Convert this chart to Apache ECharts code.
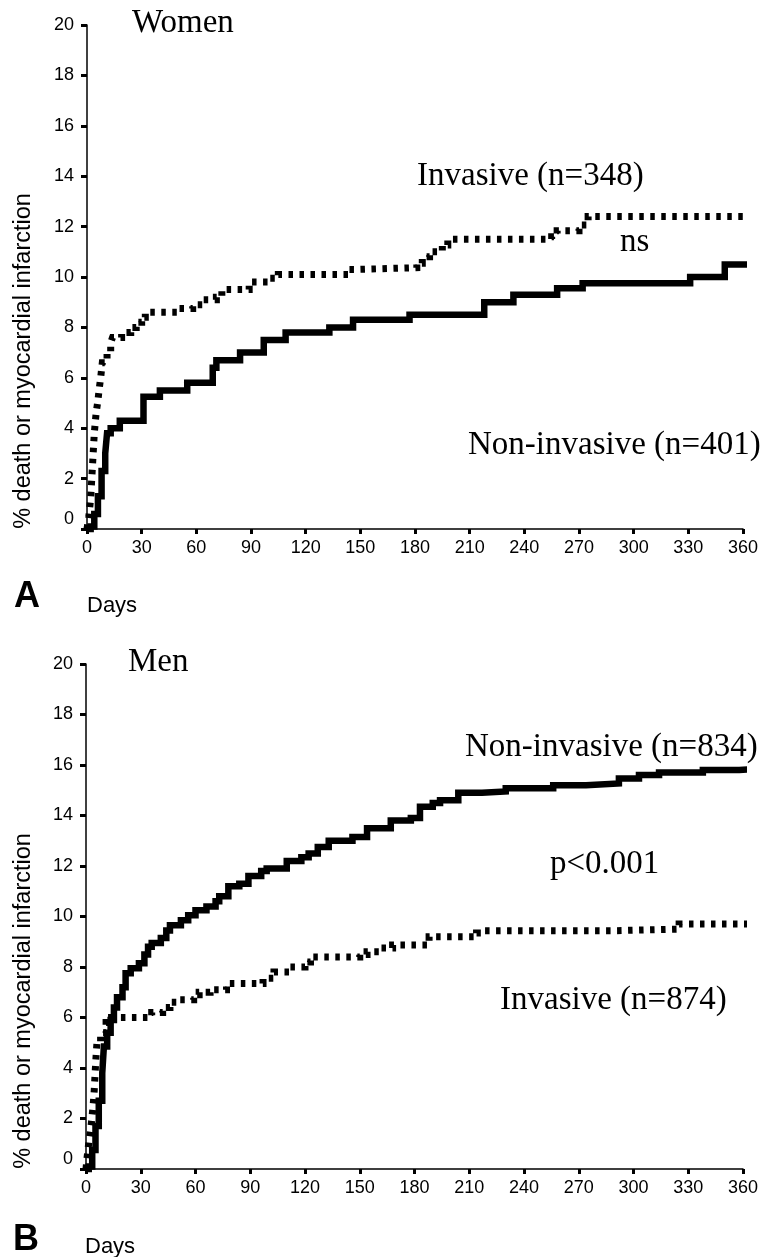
<!DOCTYPE html>
<html>
<head>
<meta charset="utf-8">
<script src="https://cdn.jsdelivr.net/npm/echarts@6/dist/echarts.min.js"></script>
<style>
  html, body { margin: 0; padding: 0; background: #fff; }
  #chart { width: 770px; height: 1257px; }
</style>
</head>
<body>
<div id="chart"></div>
<script>
// Panel A, women: cumulative % death or MI by day
const womenNonInvDays = [0, 2, 4, 6, 8, 10, 11, 13, 18, 31, 40, 55, 69, 71, 84, 97, 109, 133, 146, 177, 218, 234, 258, 272, 331, 350, 373]
const womenNonInvPct = [0, 0.1, 0.6, 1.3, 2.3, 3.0, 3.8, 4.0, 4.3, 5.25, 5.5, 5.8, 6.4, 6.7, 7.0, 7.5, 7.8, 8.0, 8.3, 8.5, 9.0, 9.3, 9.55, 9.75, 10.0, 10.5, 10.5]
const womenInvDays = [0, 1, 2, 3, 4, 5, 6, 6.6, 7.5, 8.4, 11, 13, 14, 19, 24, 27, 30, 32, 50, 58, 64, 71, 74, 89, 100, 105, 144, 148, 181, 184, 188, 195, 198, 255, 258, 270, 275, 373]
const womenInvPct = [0, 0.5, 1.2, 2.5, 3.8, 4.6, 5.1, 5.5, 6.0, 6.6, 7.0, 7.4, 7.6, 7.8, 8.0, 8.2, 8.4, 8.6, 8.75, 8.9, 9.1, 9.2, 9.5, 9.8, 9.95, 10.1, 10.3, 10.37, 10.55, 10.8, 11.0, 11.27, 11.5, 11.6, 11.84, 12.06, 12.4, 12.4]

// Panel B, men
const menNonInvDays = [0, 1.5, 3.4, 5.2, 7, 8.9, 9.8, 11.6, 13.5, 15.3, 17, 20, 21.7, 24.5, 29, 32, 34, 36, 41, 44, 46, 52, 56, 60, 66, 71, 73, 78, 84, 89, 96, 99, 110, 118, 122, 127, 133, 146, 154, 167, 178, 183, 190, 194, 204, 217, 230, 256, 274, 292, 303, 314, 338, 358, 373]
const menNonInvPct = [0, 0.1, 0.75, 1.7, 2.7, 3.8, 4.85, 5.4, 5.9, 6.4, 6.8, 7.2, 7.75, 7.95, 8.15, 8.5, 8.8, 8.95, 9.15, 9.45, 9.65, 9.85, 10.05, 10.25, 10.4, 10.6, 10.8, 11.2, 11.3, 11.6, 11.8, 11.9, 12.2, 12.35, 12.5, 12.75, 13.0, 13.15, 13.5, 13.8, 13.9, 14.35, 14.5, 14.6, 14.9, 14.95, 15.08, 15.2, 15.27, 15.47, 15.6, 15.7, 15.8, 15.87, 15.94]
const menInvDays = [0, 0.5, 1.3, 2.2, 3.1, 4, 4.5, 5, 5.5, 6, 8, 11, 14, 36, 42, 46, 50, 59, 62, 68, 77, 97, 103, 112, 120, 123, 150, 154, 161, 168, 188, 214, 218, 291, 325, 373]
const menInvPct = [0, 0.4, 0.9, 1.4, 1.9, 2.6, 3.1, 3.8, 4.45, 5.0, 5.4, 5.8, 6.0, 6.2, 6.4, 6.6, 6.7, 6.9, 7.0, 7.1, 7.35, 7.55, 7.8, 8.0, 8.2, 8.4, 8.5, 8.6, 8.75, 8.87, 9.2, 9.35, 9.44, 9.5, 9.7, 9.7]

const dayTicks = { min: 0, max: 360, interval: 30 }
const pctTicks = { min: 0, max: 20, interval: 2 }
const yName = "% death or myocardial infarction"

const pairs = (days, pct) => days.map((d, i) => [d, pct[i]])

const sans = "Liberation Sans, Arial, sans-serif"
const serif = "Liberation Serif, Times New Roman, serif"

const xAxisOf = idx => ({
  type: "value",
  gridIndex: idx,
  min: dayTicks.min,
  max: dayTicks.max,
  interval: dayTicks.interval,
  splitLine: { show: false },
  axisLine: { show: true, lineStyle: { color: "#000", width: 1.5 } },
  axisTick: { show: true, length: 5, lineStyle: { color: "#000", width: 3 } },
  axisLabel: { color: "#000", fontSize: 18, fontFamily: sans, margin: 10 }
})

const yAxisOf = idx => ({
  type: "value",
  gridIndex: idx,
  min: pctTicks.min,
  max: pctTicks.max,
  interval: pctTicks.interval,
  splitLine: { show: false },
  axisLine: { show: true, lineStyle: { color: "#000", width: 1.5 } },
  axisTick: { show: true, length: 6, lineStyle: { color: "#000", width: 3 } },
  axisLabel: {
    color: "#000",
    fontSize: 18,
    fontFamily: sans,
    margin: 13,
    // the zero label sits a little above the x axis in the original
    formatter: v => (v === 0 ? "{lift|0}" : String(v)),
    rich: { lift: { fontSize: 18, fontFamily: sans, color: "#000", padding: [0, 0, 19, 0] } }
  }
})

const curve = (idx, data, dotted) => ({
  type: "line",
  xAxisIndex: idx,
  yAxisIndex: idx,
  step: "end",
  showSymbol: false,
  clip: false,
  silent: true,
  data: data,
  lineStyle: dotted
    ? { color: "#000", width: 7, type: [4.5, 6.5], cap: "butt", join: "miter" }
    : { color: "#000", width: 6.5, type: "solid", cap: "butt", join: "miter" }
})

const label = (text, x, y, size, font, weight) => ({
  type: "text",
  x: x,
  y: y,
  silent: true,
  style: {
    text: text, fontSize: size, fontFamily: font, fontWeight: weight || "normal",
    fill: "#000", align: "left", verticalAlign: "middle"
  }
})

const yTitle = y => ({
  type: "text",
  x: 24,
  y: y,
  rotation: Math.PI / 2,
  silent: true,
  style: { text: yName, fontSize: 23.5, fontFamily: sans, fill: "#000", align: "center", verticalAlign: "middle" }
})

const chart = echarts.init(document.getElementById("chart"), null, { renderer: "canvas" })
chart.setOption({
  animation: false,
  backgroundColor: "#fff",
  grid: [
    { left: 87, right: 27, top: 25, height: 504, outerBoundsMode: "none" },
    { left: 86, right: 27, top: 664, height: 505, outerBoundsMode: "none" }
  ],
  xAxis: [xAxisOf(0), xAxisOf(1)],
  yAxis: [yAxisOf(0), yAxisOf(1)],
  series: [
    curve(0, pairs(womenInvDays, womenInvPct), true),
    curve(0, pairs(womenNonInvDays, womenNonInvPct), false),
    curve(1, pairs(menInvDays, menInvPct), true),
    curve(1, pairs(menNonInvDays, menNonInvPct), false)
  ],
  graphic: [
    label("Women", 132, 23, 33, serif),
    label("Invasive (n=348)", 417, 176, 33, serif),
    label("ns", 620, 242, 33, serif),
    label("Non-invasive (n=401)", 468, 445, 33, serif),
    label("A", 14, 597, 36, sans, "bold"),
    label("Days", 87, 606, 22, sans),
    yTitle(361),
    label("Men", 128, 662, 33, serif),
    label("Non-invasive (n=834)", 465, 747, 33, serif),
    label("p<0.001", 550, 864, 33, serif),
    label("Invasive (n=874)", 500, 1000, 33, serif),
    label("B", 13, 1240, 36, sans, "bold"),
    label("Days", 85, 1247, 22, sans),
    yTitle(1001)
  ]
})
</script>
</body>
</html>
